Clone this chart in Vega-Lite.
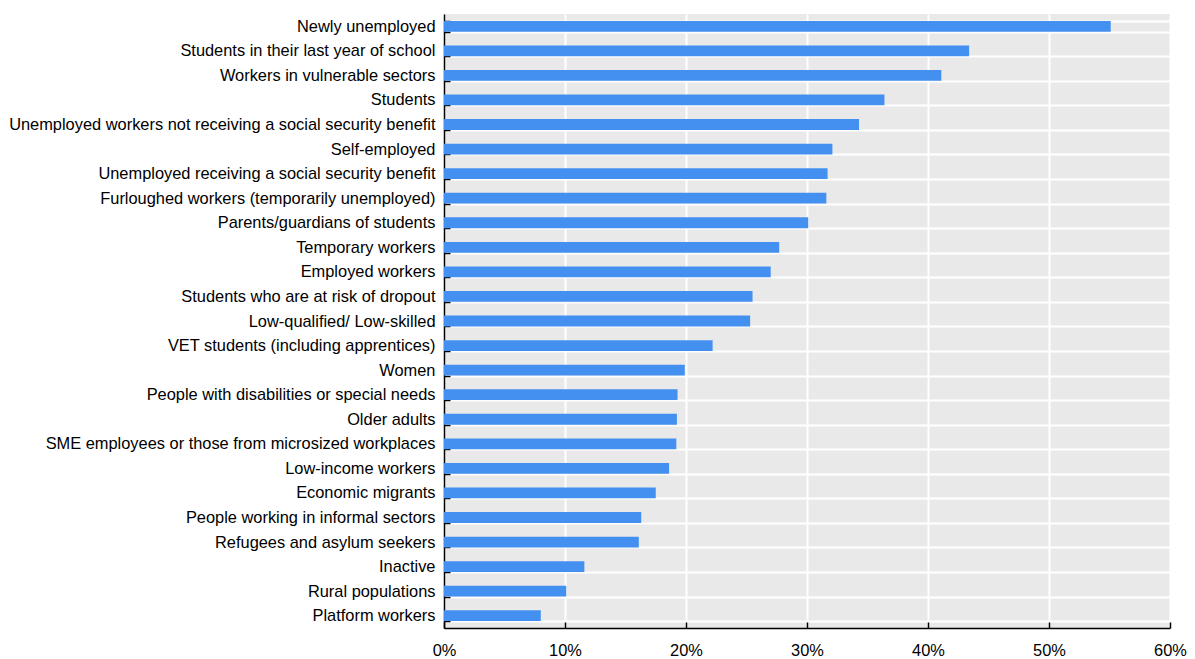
{
  "$schema": "https://vega.github.io/schema/vega-lite/v6.json",
  "width": 726,
  "height": 614,
  "padding": {"left": 8, "top": 6, "right": 4, "bottom": 0},
  "background": "white",
  "config": {"view": {"fill": "#e9e9e9", "stroke": null}, "font": "Liberation Sans"},
  "data": {"values": [
    {"group": "Newly unemployed", "share": 0.551},
    {"group": "Students in their last year of school", "share": 0.434},
    {"group": "Workers in vulnerable sectors", "share": 0.411},
    {"group": "Students", "share": 0.364},
    {"group": "Unemployed workers not receiving a social security benefit", "share": 0.343},
    {"group": "Self-employed", "share": 0.321},
    {"group": "Unemployed receiving a social security benefit", "share": 0.317},
    {"group": "Furloughed workers (temporarily unemployed)", "share": 0.316},
    {"group": "Parents/guardians of students", "share": 0.301},
    {"group": "Temporary workers", "share": 0.277},
    {"group": "Employed workers", "share": 0.270},
    {"group": "Students who are at risk of dropout", "share": 0.255},
    {"group": "Low-qualified/ Low-skilled", "share": 0.253},
    {"group": "VET students (including apprentices)", "share": 0.222},
    {"group": "Women", "share": 0.199},
    {"group": "People with disabilities or special needs", "share": 0.193},
    {"group": "Older adults", "share": 0.1925},
    {"group": "SME employees or those from microsized workplaces", "share": 0.192},
    {"group": "Low-income workers", "share": 0.186},
    {"group": "Economic migrants", "share": 0.175},
    {"group": "People working in informal sectors", "share": 0.163},
    {"group": "Refugees and asylum seekers", "share": 0.161},
    {"group": "Inactive", "share": 0.116},
    {"group": "Rural populations", "share": 0.101},
    {"group": "Platform workers", "share": 0.080}
  ]},
  "mark": {"type": "bar", "color": "#4490f1"},
  "encoding": {
    "y": {
      "field": "group", "type": "nominal", "sort": {"field": "share", "order": "descending"},
      "scale": {"paddingInner": 0.56, "paddingOuter": 0.28},
      "axis": {
        "title": null, "tickBand": "extent", "grid": true, "gridColor": "white", "gridWidth": 2,
        "domainColor": "black", "domainWidth": 1.5, "tickColor": "black", "tickWidth": 1.5, "tickSize": -6,
        "labelFontSize": 16.4, "labelColor": "black", "labelPadding": 15, "labelLimit": 0
      }
    },
    "x": {
      "field": "share", "type": "quantitative",
      "scale": {"domain": [0, 0.6], "nice": false},
      "axis": {
        "title": null, "format": ".0%", "values": [0, 0.1, 0.2, 0.3, 0.4, 0.5, 0.6],
        "grid": true, "gridColor": "white", "gridWidth": 2,
        "domainColor": "black", "domainWidth": 1.5, "tickColor": "black", "tickWidth": 1.5, "tickSize": -6,
        "labelFontSize": 16.4, "labelColor": "black", "labelPadding": 20, "labelFlush": false
      }
    }
  }
}
